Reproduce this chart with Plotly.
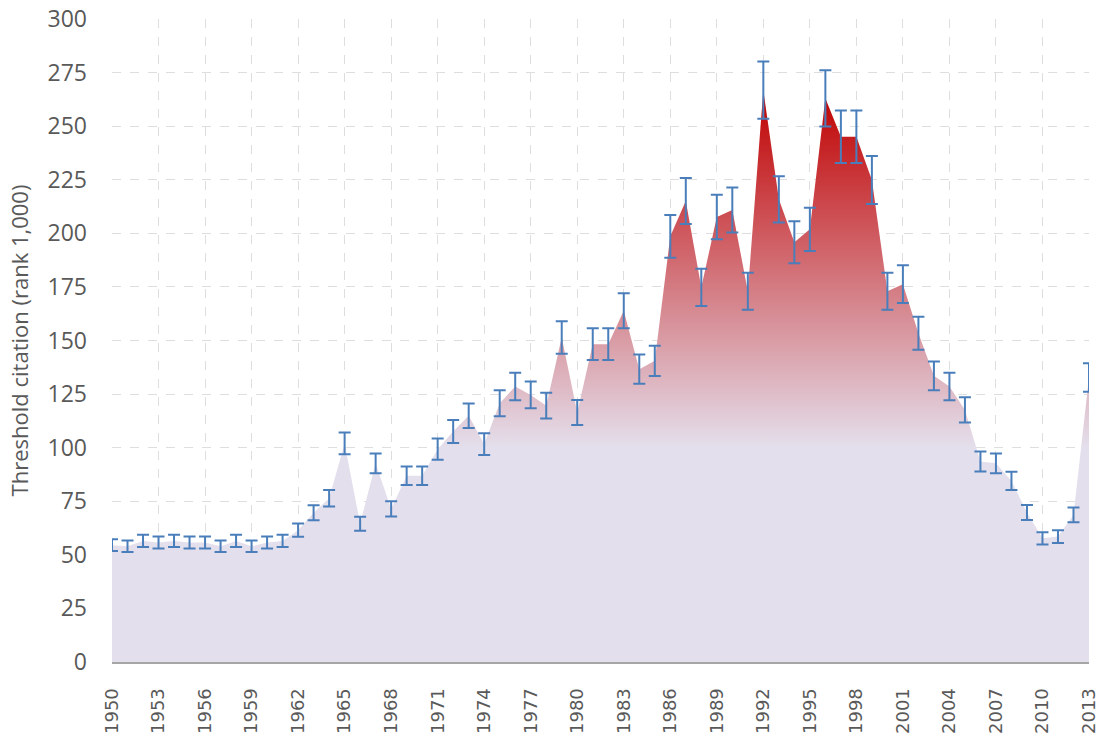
import plotly.graph_objects as go

years = list(range(1950, 2014))
threshold = [54.5, 54.0, 56.5, 55.8, 56.5, 55.8, 55.8, 54.0, 56.5, 54.0,
             55.8, 56.5, 61.5, 69.6, 76.4, 102.0, 64.5, 92.7, 71.4, 86.9,
             86.9, 99.3, 107.5, 114.9, 101.7, 120.7, 128.5, 124.6, 119.6, 151.4,
             116.4, 148.3, 148.3, 163.9, 136.6, 140.5, 198.6, 215.1, 174.8, 207.6,
             210.9, 173.0, 266.8, 215.9, 195.8, 201.9, 263.0, 245.1, 245.1, 224.9,
             173.0, 176.3, 153.4, 133.5, 128.5, 117.6, 93.5, 92.7, 84.5, 69.8,
             57.7, 58.5, 68.6, 132.7]
error_percent = 5

y_title = "Threshold citation (rank 1,000)"

lav = "#e4dfec"
red = "#c00000"

fig = go.Figure()
fig.add_trace(go.Scatter(
    x=years, y=threshold, mode="lines", fill="tozeroy",
    line=dict(width=0, color=lav),
    fillgradient=dict(type="vertical", start=0, stop=max(threshold),
                      colorscale=[[0, lav], [0.375, lav], [1, red]]),
    error_y=dict(type="percent", value=error_percent, color="#4a7ebb",
                 thickness=2, width=6),
    showlegend=False,
))

fig.update_layout(
    width=1107, height=735,
    margin=dict(l=112, r=18, t=19, b=73),
    plot_bgcolor="white", paper_bgcolor="white",
    font=dict(family="Open Sans", color="#595959"),
)
fig.update_xaxes(
    range=[1950, 2013], tick0=1950, dtick=3, tickangle=-90,
    tickfont=dict(family="DejaVu Sans", size=18, color="#595959"),
    showgrid=True, gridcolor="#dedede", griddash="dash", gridwidth=1,
    showline=True, linecolor="#a6a6a6", linewidth=2,
    ticks="", ticklabelstandoff=17, zeroline=False, automargin=False,
    ticklabeloverflow="allow",
)
fig.update_yaxes(
    range=[0, 300.01], tick0=0, dtick=25,
    tickfont=dict(family="Open Sans", size=23, color="#595959"),
    showgrid=True, gridcolor="#dedede", griddash="dash", gridwidth=1,
    showline=False, zeroline=False, ticks="", ticklabelstandoff=24,
    automargin=False, ticklabeloverflow="allow",
    title=dict(text=y_title, font=dict(family="Open Sans", size=22, color="#595959"),
               standoff=12),
)

fig.write_html(
    "out.html",
    config={"displayModeBar": False},
    post_script="document.body.style.margin='0';document.body.style.overflow='hidden';",
)
